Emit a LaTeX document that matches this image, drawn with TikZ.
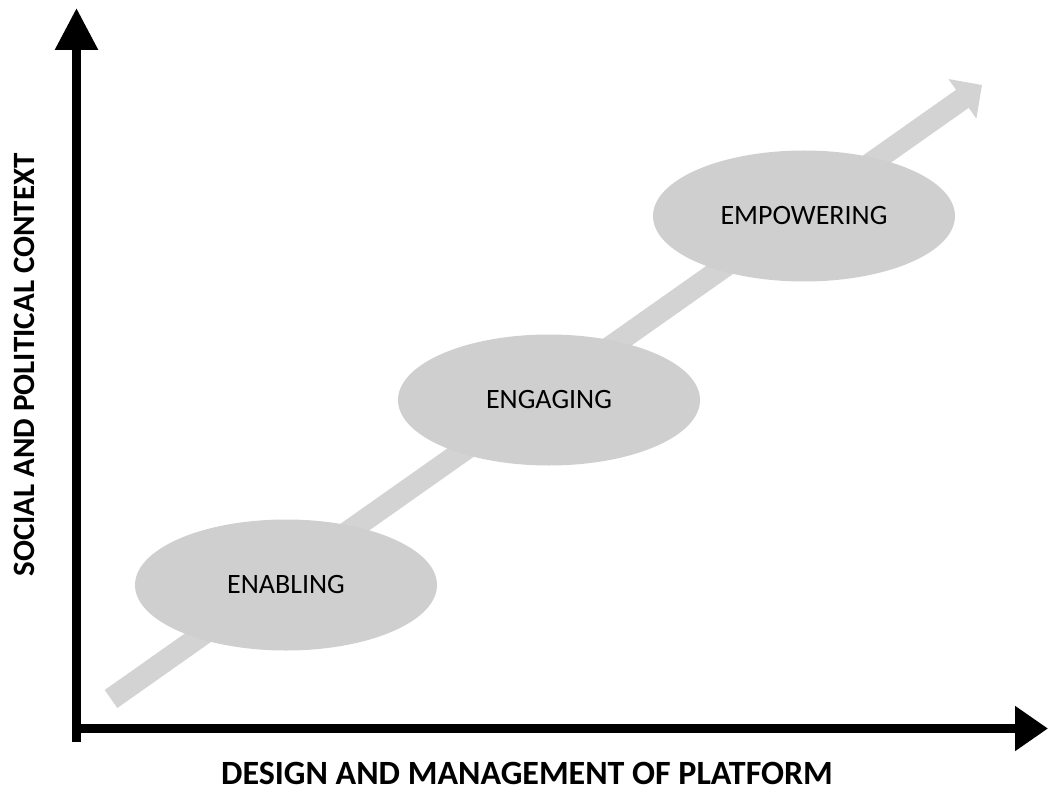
\documentclass[tikz,border=0pt]{standalone}
\usepackage{fontspec}
\setmainfont{Carlito}
\usepackage{tikz}
\usetikzlibrary{positioning}
\usetikzlibrary{arrows.meta}
\usetikzlibrary{shapes.geometric}
\definecolor{stage-gray}{RGB}{208,207,207}
\definecolor{path-gray}{RGB}{212,211,211}

\begin{document}
\begin{tikzpicture}[x=1pt, y=-1pt,
stage/.style={ellipse, fill=stage-gray, minimum width=302pt, minimum height=131pt, inner sep=0pt, font=\fontsize{28}{32}\selectfont},
axis/.style={line width=9pt},
axislabel/.style={inner sep=0pt, font=\fontsize{34}{40}\selectfont\bfseries}]
\useasboundingbox (0,0) rectangle (1048,791);

% path of growth
\coordinate (tail) at (111,699);
\coordinate (tip) at (982,85);
\draw [path-gray, line width=22pt, -{Triangle[length=24pt,width=47pt]}] (tail) -- (tip);

%%%%%%%%%%%%%%%%%%%%%%%% stages
\node [stage] (enabling) at (286,585) {ENABLING};
\node [stage] (engaging) at (549,400) {ENGAGING};
\node [stage] (empowering) at (804,216) {EMPOWERING};

% axes
\coordinate (o) at (76.5,728.5);
\coordinate (ytip) at (76.5,8);
\coordinate (xtip) at (1048,728.5);
\draw [axis, line cap=rect] (ytip |- 0,737) -- (o);
\draw [axis, -{Triangle[length=42pt,width=41pt]}] (o) -- (ytip);
\draw [axis, -{Triangle[length=33pt,width=43pt]}] (72,728.5) -- (xtip);

% axis labels
\node [axislabel] (xlabel) at (527,773) {DESIGN AND MANAGEMENT OF PLATFORM};
\node [axislabel, rotate=90, font=\fontsize{31}{36}\selectfont\bfseries] (ylabel) at (24,365) {SOCIAL AND POLITICAL CONTEXT};

\end{tikzpicture}
\end{document}
